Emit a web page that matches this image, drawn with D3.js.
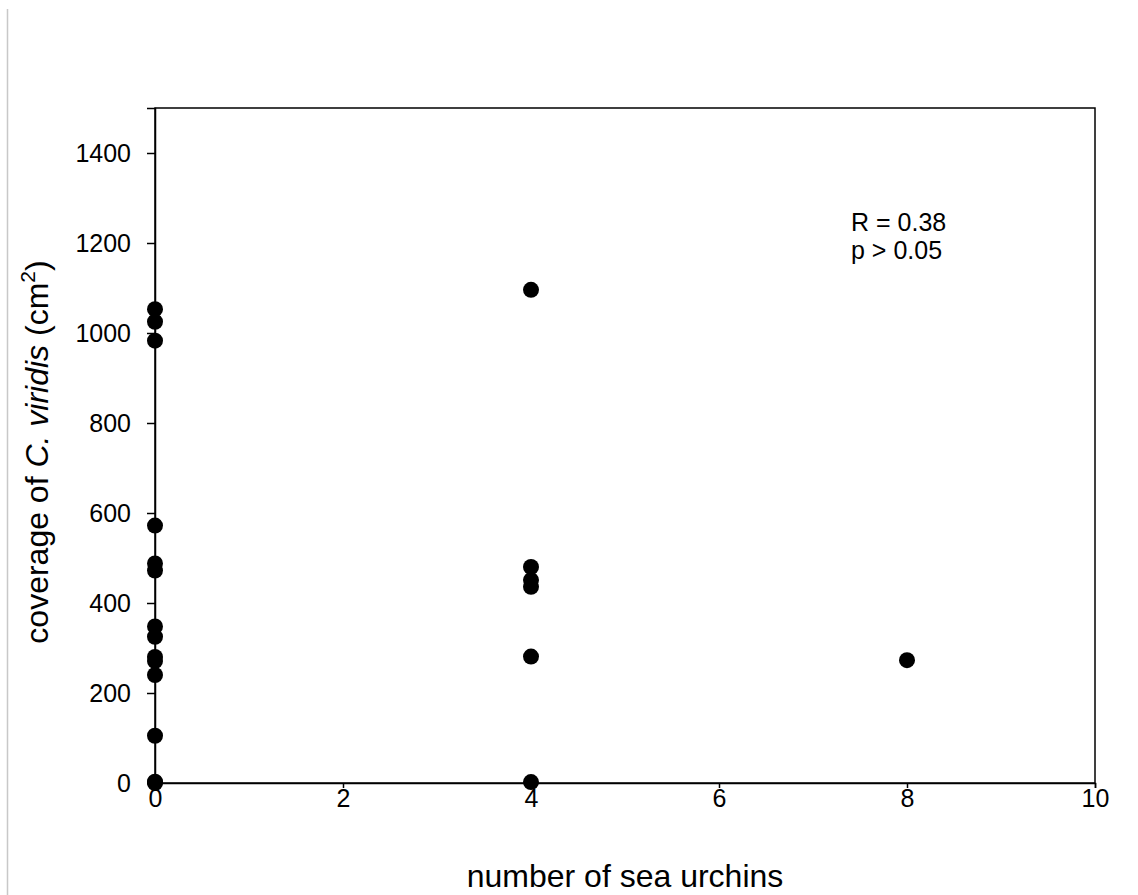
<!DOCTYPE html>
<html>
<head>
<meta charset="utf-8">
<script src="https://cdn.jsdelivr.net/npm/d3@7"></script>
<style>
  body { margin: 0; background: #fff; }
  text { font-family: "Liberation Sans", Arial, sans-serif; fill: #000; }
</style>
</head>
<body>
<div id="chart-area"></div>
<script>
// sea urchins vs coverage
var urchins = [0, 0, 0, 0, 0, 0, 0, 0, 0, 0, 0, 0, 0, 0,
               4, 4, 4, 4, 4, 4,
               8];
var coverage = [1053, 1025, 983, 572, 488, 472, 348, 325, 280, 271, 240, 105, 3, 0,
                1096, 480, 451, 436, 281, 2,
                273];
var xTicks = [0, 2, 4, 6, 8, 10];
var yTicks = [0, 200, 400, 600, 800, 1000, 1200, 1400];

var data = urchins.map((u, i) => ({x: u, y: coverage[i]}));

var width = 1138, height = 895;
var margin = {left: 155, right: 43, top: 108, bottom: 112};

var svg = d3.select("#chart-area").append("svg")
    .attr("width", width)
    .attr("height", height);

// thin gray line at left edge
svg.append("line")
    .attr("x1", 7.5).attr("x2", 7.5)
    .attr("y1", 9).attr("y2", height)
    .attr("stroke", "#c8c8c8")
    .attr("stroke-width", 1.5);

var x = d3.scaleLinear().domain([0, 10]).range([margin.left, width - margin.right]);
var y = d3.scaleLinear().domain([0, 1500]).range([height - margin.bottom, margin.top]);

// frame
svg.append("rect")
    .attr("x", x(0)).attr("y", y(1500))
    .attr("width", x(10) - x(0))
    .attr("height", y(0) - y(1500))
    .attr("fill", "none")
    .attr("stroke", "#000")
    .attr("stroke-width", 1.5);

var xAxis = svg.append("g")
    .attr("transform", "translate(0," + y(0) + ")")
    .call(d3.axisBottom(x).tickValues(xTicks).tickFormat(d3.format("d")).tickSize(5).tickPadding(1));
var yAxis = svg.append("g")
    .attr("transform", "translate(" + x(0) + ",0)")
    .call(d3.axisLeft(y).tickValues(yTicks).tickFormat(d3.format("d")).tickSize(8).tickPadding(16));

[xAxis, yAxis].forEach(g => {
    g.select(".domain").attr("stroke-width", 1.5);
    g.selectAll(".tick line").attr("stroke-width", 1.5);
    g.selectAll(".tick text")
        .style("font-family", "'Liberation Sans', Arial, sans-serif")
        .style("font-size", "25px")
        .attr("fill", "#000");
});

svg.selectAll("circle.pt").data(data)
    .enter().append("circle")
    .attr("class", "pt")
    .attr("cx", d => x(d.x))
    .attr("cy", d => y(d.y))
    .attr("r", 8)
    .attr("fill", "#000");

// axis titles
svg.append("text")
    .attr("x", (x(0) + x(10)) / 2)
    .attr("y", 887)
    .attr("text-anchor", "middle")
    .style("font-size", "32px")
    .text("number of sea urchins");

var yt = svg.append("text")
    .attr("transform", "translate(48," + 452 + ") rotate(-90)")
    .attr("text-anchor", "middle")
    .style("font-size", "32px");
yt.append("tspan").text("coverage of ");
yt.append("tspan").style("font-style", "italic").text("C. viridis");
yt.append("tspan").text(" (cm");
yt.append("tspan").attr("dy", -13).style("font-size", "21px").text("2");
yt.append("tspan").attr("dy", 13).text(")");

// stats annotation
svg.append("text").attr("x", 851).attr("y", 231)
    .style("font-size", "25px").text("R = 0.38");
svg.append("text").attr("x", 851).attr("y", 259)
    .style("font-size", "25px").text("p > 0.05");
</script>
</body>
</html>
